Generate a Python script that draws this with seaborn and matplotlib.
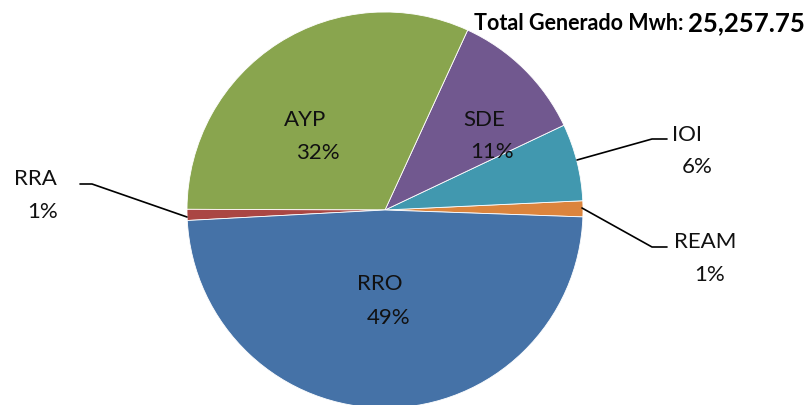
import matplotlib
matplotlib.use('Agg')
import matplotlib.pyplot as plt
import seaborn as sns

# --- datos ---
centrales = ['REAM', 'IOI', 'SDE', 'AYP', 'RRA', 'RRO']
generado_mwh = [328.4, 1591.2, 2803.6, 8032.0, 227.3, 12275.25]
colores = ['#DB843D', '#4198AF', '#71588F', '#89A54E', '#AA4643', '#4572A7']

total = sum(generado_mwh)
porcentajes = [round(v / total * 100) for v in generado_mwh]

sns.set_theme(style='white')
plt.rcParams['font.family'] = ['Lato', 'DejaVu Sans']

W, H = 810, 405


def Y(py):
    # coordenada de pixel (desde arriba) a coordenada de datos
    return H - py


fig = plt.figure(figsize=(8.1, 4.05), dpi=100)
ax = fig.add_axes([0, 0, 1, 1])

ax.pie(generado_mwh, colors=colores, startangle=-2, center=(385, Y(210)),
       radius=198, frame=True,
       wedgeprops=dict(edgecolor='white', linewidth=0.6))
ax.set_xlim(0, W)
ax.set_ylim(0, H)
ax.set_aspect('equal')
ax.axis('off')

# --- etiquetas: (centro nombre), (centro porcentaje) ---
pos_etiquetas = {
    'RRO': ((380, 282), (389, 316)),
    'AYP': ((305, 118), (318, 151)),
    'SDE': ((484, 118), (492, 150)),
    'IOI': ((687, 133), (697, 165)),
    'REAM': ((705, 240), (710, 273)),
    'RRA': ((35, 177), (43, 210)),
}
for nombre, pct in zip(centrales, porcentajes):
    (xn, yn), (xp, yp) = pos_etiquetas[nombre]
    ax.text(xn, Y(yn), nombre, ha='center', va='center_baseline',
            fontsize=16, color='#111111')
    ax.text(xp, Y(yp), f'{pct}%', ha='center', va='center_baseline',
            fontsize=16, color='#111111')

# lineas guia
lineas = [
    [(577, 160), (652, 139), (667, 139)],
    [(582, 208), (652, 247), (667, 247)],
    [(80, 184), (92, 184), (187, 217)],
]
for pts in lineas:
    ax.plot([p[0] for p in pts], [Y(p[1]) for p in pts], color='black', lw=1.2)

# titulo
ax.text(683, Y(22), 'Total Generado Mwh:', ha='right', va='center_baseline',
        fontsize=15.5, fontweight='bold', color='black')
ax.text(688, Y(21), f'{total:,.2f}', ha='left', va='center_baseline',
        fontsize=18.5, fontweight='bold', color='black')

fig.savefig('out.png', dpi=100)
